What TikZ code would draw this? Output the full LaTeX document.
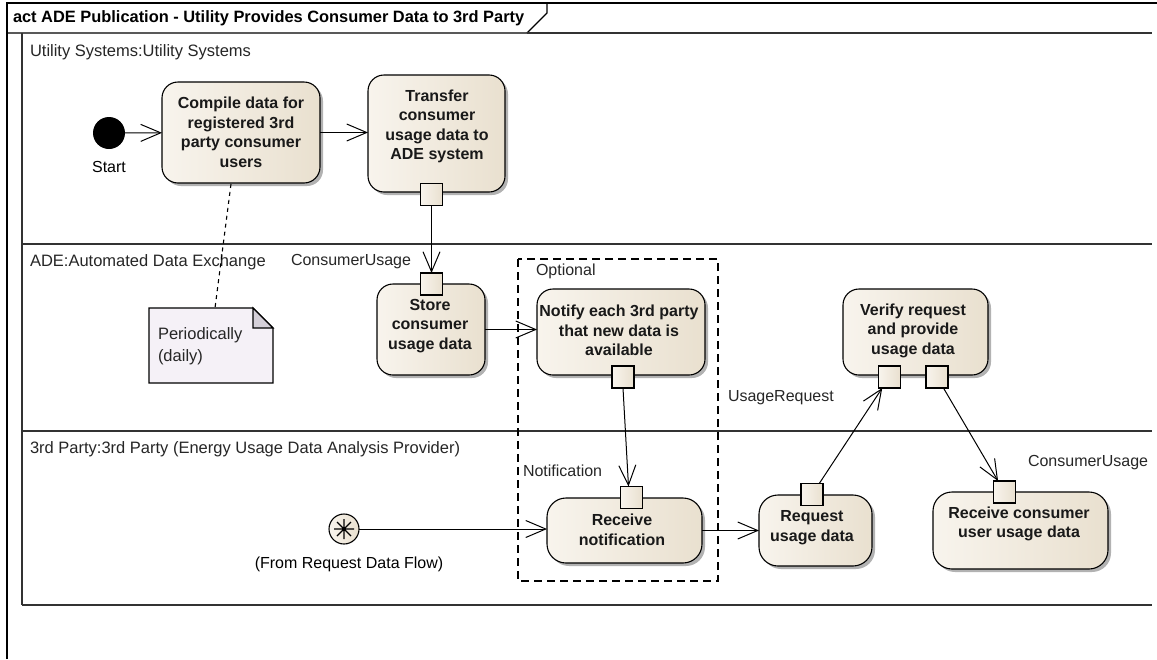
\documentclass[tikz,border=0pt]{standalone}
\usepackage{fontspec}
\setmainfont{Liberation Sans}
\usetikzlibrary{arrows.meta,shadows,calc}
\definecolor{actL}{RGB}{248,244,237}
\definecolor{actR}{RGB}{233,224,207}
\definecolor{notefill}{RGB}{245,241,247}
\definecolor{notefold}{RGB}{212,207,216}
\definecolor{lanecol}{RGB}{50,50,50}
\begin{document}
\begin{tikzpicture}[x=1pt,y=-1pt,
  every node/.style={inner sep=0pt,outer sep=0pt},
  actbox/.style={draw=black,line width=1.1pt,rounded corners=16pt,
    left color=actL,right color=actR,
    drop shadow={shadow xshift=3pt,shadow yshift=-3pt,opacity=0.3,fill=black}},
  pinbox/.style={draw=black,line width=1.1pt,left color=actL,right color=actR,
    minimum width=22pt,minimum height=22pt},
  acttext/.style={font=\fontsize{16}{19.5}\selectfont\bfseries,align=center,text=black!90},
  lbl/.style={font=\fontsize{16}{19}\selectfont,text=black!85,anchor=west},
  lanelbl/.style={font=\fontsize{16.5}{19}\selectfont,text=black!85,anchor=west},
  flow/.style={draw=black,line width=1pt,-{Straight Barb[length=20pt,width=17pt,line width=1pt]}},
  lane/.style={draw=lanecol,line width=1.2pt}
]
\useasboundingbox (0,0) rectangle (1157,659);
% frame
\draw[line width=1.4pt] (7,659) -- (7,3) -- (1157,3);
\node[anchor=west,font=\fontsize{16.4}{19}\selectfont\bfseries] (title) at (13,18) {act ADE Publication - Utility Provides Consumer Data to 3rd Party};
\draw[line width=1.2pt] (7,33) -- (527,33) -- (547,13) -- (547,3);
% lanes
\draw[lane] (527,33) -- (1152,33);
\draw[lane] (22,33) -- (22,605);
\draw[lane] (22,244) -- (1152,244);
\draw[lane] (22,431) -- (1152,431);
\draw[lane] (22,605) -- (1152,605);
\node[lanelbl] (lane1) at (30,52) {Utility Systems:Utility Systems};
\node[lanelbl] (lane2) at (30,262) {ADE:Automated Data Exchange};
\node[lanelbl] (lane3) at (30,449) {3rd Party:3rd Party (Energy Usage Data Analysis Provider)};
% optional region
\draw[line width=1.1pt,dash pattern=on 8pt off 5pt] (518,259) rectangle (718,581);
\node[lbl] (optl) at (536,271) {Optional};
% start
\node[circle,fill=black,minimum size=32pt] (start) at (109,133) {};
\node[font=\fontsize{16}{19}\selectfont] (startl) at (109,167) {Start};
% activities
\node[actbox,minimum width=158pt,minimum height=101pt] (compile) at (241,132.5) {};
\node[acttext] (compilet) at (241,132.5) {Compile data for\\registered 3rd\\party consumer\\users};
\node[actbox,minimum width=137pt,minimum height=117pt] (transfer) at (436.5,133.5) {};
\node[acttext] (transfert) at (437,126.5) {Transfer\\consumer\\usage data to\\ADE system};
\node[pinbox] (tpin) at (431.5,194.5) {};
\node[actbox,minimum width=108pt,minimum height=91pt] (store) at (431,329.5) {};
\node[acttext] (storet) at (430,326) {Store\\consumer\\usage data};
\node[pinbox] (spin) at (431.5,284) {};
\node[actbox,minimum width=168pt,minimum height=86pt] (notify) at (621,332) {};
\node[acttext] (notifyt) at (619,330.5) {Notify each 3rd party\\that new data is\\available};
\node[pinbox] (npin) at (623,377) {};
\node[actbox,rounded corners=19pt,minimum width=155pt,minimum height=65pt] (recv) at (624.5,530.5) {};
\node[acttext] (recvt) at (622,530) {Receive\\notification};
\node[pinbox] (rpin) at (631.5,497.5) {};
\node[actbox,rounded corners=19pt,minimum width=113pt,minimum height=71pt] (request) at (815.5,530.5) {};
\node[acttext] (requestt) at (812,527.5) {Request\\usage data};
\node[pinbox] (reqpin) at (812,494.5) {};
\node[actbox,minimum width=145pt,minimum height=86pt] (verify) at (915.5,332) {};
\node[acttext] (verifyt) at (913,330.5) {Verify request\\and provide\\usage data};
\node[pinbox] (vpin1) at (889.5,377) {};
\node[pinbox] (vpin2) at (937,377) {};
\node[actbox,rounded corners=19pt,minimum width=175pt,minimum height=77pt] (rc) at (1020.5,530.5) {};
\node[acttext] (rct) at (1019,524) {Receive consumer\\user usage data};
\node[pinbox] (rcpin) at (1004.5,492) {};
% entry point (star)
\node[circle,draw=black,line width=1.1pt,left color=actL,right color=actR,minimum size=30pt] (star) at (344,529) {};
\draw[line width=1.1pt] ($(star)+(0,-10)$) -- ($(star)+(0,10)$)
  ($(star)+(-10,0)$) -- ($(star)+(10,0)$)
  ($(star)+(-7,-7)$) -- ($(star)+(7,7)$)
  ($(star)+(-7,7)$) -- ($(star)+(7,-7)$);
\node[font=\fontsize{16}{19}\selectfont] (starl) at (349,564) {(From Request Data Flow)};
% note
\coordinate (nA) at (149,308);
\coordinate (nB) at (253,308);
\coordinate (nC) at (273,328);
\coordinate (nD) at (273,383);
\coordinate (nE) at (149,383);
\draw[line width=1.1pt,fill=notefill] (nA) -- (nB) -- (nC) -- (nD) -- (nE) -- cycle;
\draw[line width=1.1pt,fill=notefold] (nB) -- (nC) -- (nB |- nC) -- cycle;
\node[lbl,anchor=north west,align=left,font=\fontsize{16.5}{22}\selectfont] (note) at (158,328) {Periodically\\(daily)};
\coordinate (notetop) at (215,308);
\draw[line width=1.1pt,dash pattern=on 4pt off 4pt] (231,184) coordinate (cbot) -- (notetop);
% pin labels
\node[lbl] (cu1) at (291,262) {ConsumerUsage};
\node[lbl] (notl) at (523,471) {Notification};
\node[lbl] (urq) at (728,398) {UsageRequest};
\node[lbl] (cu2) at (1028,463) {ConsumerUsage};
% flows
\draw[flow] (start) -- (compile);
\draw[flow] (compile.east) -- (transfer.west |- compile.east);
\draw[flow] (tpin.south) -- (spin.north);
\draw[flow] (store.east) -- (notify.west |- store.east);
\draw[flow] (npin.south) -- ($(rpin.north)+(-3,0)$);
\draw[flow] (star) -- (recv.west |- star);
\draw[flow] (recv.east |- request.west) -- (request.west);
\draw[flow] (reqpin) -- (vpin1);
\draw[flow] (vpin2) -- (rcpin);
\end{tikzpicture}
\end{document}
